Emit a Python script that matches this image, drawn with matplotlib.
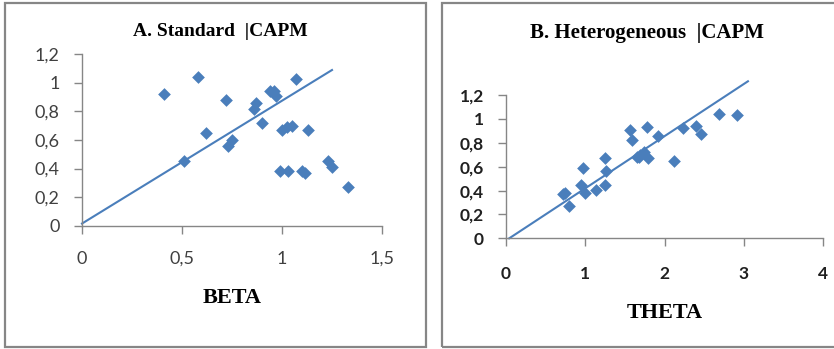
import matplotlib
matplotlib.use('Agg')
import matplotlib.pyplot as plt
from matplotlib.patches import Rectangle
import numpy as np

# Panel A : rendement moyen vs beta
beta = [0.41, 0.58, 0.51, 0.62, 0.72, 0.73, 0.75, 0.86, 0.87, 0.90, 0.94, 0.96,
        0.97, 1.07, 0.99, 1.03, 1.00, 1.025, 1.05, 1.13, 1.10, 1.115, 1.23, 1.25, 1.33]
ret_a = [0.92, 1.04, 0.45, 0.65, 0.88, 0.56, 0.60, 0.82, 0.86, 0.72, 0.945, 0.94,
         0.91, 1.03, 0.38, 0.38, 0.67, 0.69, 0.70, 0.67, 0.38, 0.37, 0.45, 0.41, 0.27]
fit_a = (0.86, 0.015)        # pente, ordonnee
range_a = (0.0, 1.25)

# Panel B : rendement moyen vs theta
theta = [0.72, 0.75, 0.80, 0.94, 0.97, 1.00, 1.13, 1.25, 1.26, 1.25, 1.56, 1.59,
         1.65, 1.69, 1.74, 1.79, 1.78, 1.91, 2.12, 2.23, 2.40, 2.46, 2.68, 2.91, 1.68]
ret_b = [0.37, 0.38, 0.27, 0.45, 0.59, 0.38, 0.405, 0.67, 0.56, 0.45, 0.91, 0.82,
         0.68, 0.70, 0.72, 0.67, 0.935, 0.86, 0.65, 0.92, 0.94, 0.875, 1.04, 1.03, 0.68]
fit_b = (0.437, -0.018)
range_b = (0.04, 3.05)

W, H = 834, 349
fig = plt.figure(figsize=(W / 100, H / 100), dpi=100)
blue = '#4a7ebb'
grey = '#868686'

def px(x0, y0, x1, y1):
    return [x0 / W, 1 - y1 / H, (x1 - x0) / W, (y1 - y0) / H]

# cadres des deux graphiques
fig.patches.append(Rectangle((5 / W, 1 - 347 / H), 421 / W, 344 / H, transform=fig.transFigure,
                             fill=False, edgecolor=grey, lw=1.6))
fig.patches.append(Rectangle((442 / W, 1 - 347 / H), 400 / W, 344 / H, transform=fig.transFigure,
                             fill=False, edgecolor=grey, lw=1.6))

def panel(rect, x, y, fit, xr, xlim, xticks, xlabels, ylabels, tickweight, tickcolor, fs, xpad):
    ax = fig.add_axes(rect)
    ax.scatter(x, y, marker='D', s=42, color=blue, linewidths=0, zorder=3, clip_on=False)
    xs = np.array(xr)
    ax.plot(xs, fit[0] * xs + fit[1], color=blue, lw=1.5, zorder=2, clip_on=False)
    ax.set_xlim(*xlim)
    ax.set_ylim(0, 1.2)
    ax.set_xticks(xticks)
    ax.set_xticklabels(xlabels)
    ax.set_yticks(np.arange(0, 1.21, 0.2))
    ax.set_yticklabels(ylabels)
    for s in ['top', 'right']:
        ax.spines[s].set_visible(False)
    for s in ['left', 'bottom']:
        ax.spines[s].set_color(grey)
        ax.spines[s].set_linewidth(1.0)
    ax.tick_params(axis='both', colors=grey, length=6, width=1.0, direction='out')
    ax.tick_params(axis='y', pad=10)
    ax.tick_params(axis='x', pad=xpad)
    for t in ax.get_xticklabels() + ax.get_yticklabels():
        t.set_color(tickcolor)
        t.set_fontsize(fs)
        t.set_fontweight(tickweight)
        t.set_family('Lato')
    return ax

ylabels = ['0', '0,2', '0,4', '0,6', '0,8', '1', '1,2']
panel(px(82, 54.3, 382, 225.7), beta, ret_a, fit_a, range_a, (0, 1.5),
      [0, 0.5, 1, 1.5], ['0', '0,5', '1', '1,5'], ylabels, 'normal', '#404040', 13, 12)
panel(px(506, 95, 823.3, 238.3), theta, ret_b, fit_b, range_b, (0, 4),
      [0, 1, 2, 3, 4], ['0', '1', '2', '3', '4'], ylabels, 'bold', '#202020', 12.5, 14)

serif = 'Liberation Serif'
fig.text(220 / W, 1 - 32 / H, 'A. Standard  |CAPM', ha='center', va='center',
         family=serif, weight='bold', fontsize=14)
fig.text(647 / W, 1 - 33 / H, 'B. Heterogeneous  |CAPM', ha='center', va='center',
         family=serif, weight='bold', fontsize=15)
fig.text(232 / W, 1 - 298 / H, 'BETA', ha='center', va='center',
         family=serif, weight='bold', fontsize=16)
fig.text(665 / W, 1 - 313 / H, 'THETA', ha='center', va='center',
         family=serif, weight='bold', fontsize=16)

fig.savefig('out.png', dpi=100)
